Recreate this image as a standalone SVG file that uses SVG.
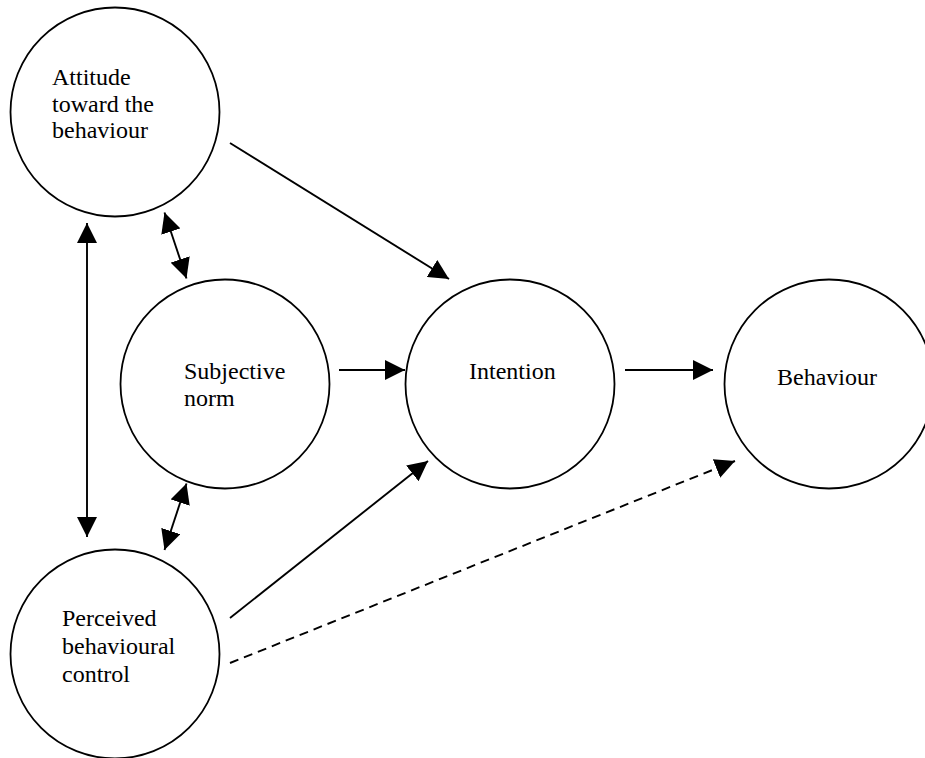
<svg xmlns="http://www.w3.org/2000/svg" width="925" height="758" viewBox="0 0 925 758">
<style>
.node{fill:#fff;stroke:#000;stroke-width:1.8}
.lbl{font-family:"Liberation Serif","Times New Roman",serif;font-size:24px;fill:#000}
.c{fill:none;stroke:#000;stroke-width:1.9}
.d{stroke-dasharray:9 6}
</style>
<defs>
<marker id="ah" viewBox="0 0 20 20" refX="20" refY="10" markerWidth="20" markerHeight="20" markerUnits="userSpaceOnUse" orient="auto-start-reverse">
<path d="M0,0 L20,10 L0,20 z" fill="#000"/>
</marker>
</defs>
<rect width="925" height="758" fill="#fff"/>
<g id="attitude">
<circle class="node" cx="115" cy="112" r="104.5"/>
<text class="lbl" x="52" y="85">Attitude</text>
<text class="lbl" x="52" y="112">toward the</text>
<text class="lbl" x="52" y="138">behaviour</text>
</g>
<g id="subjective-norm">
<circle class="node" cx="225" cy="384" r="104.5"/>
<text class="lbl" x="184" y="379">Subjective</text>
<text class="lbl" x="184" y="406">norm</text>
</g>
<g id="perceived-control">
<circle class="node" cx="115" cy="654" r="104.5"/>
<text class="lbl" x="62" y="626">Perceived</text>
<text class="lbl" x="62" y="654">behavioural</text>
<text class="lbl" x="62" y="682">control</text>
</g>
<g id="intention">
<circle class="node" cx="510" cy="384" r="104.5"/>
<text class="lbl" x="469" y="379">Intention</text>
</g>
<g id="behaviour">
<circle class="node" cx="829" cy="384" r="104.5"/>
<text class="lbl" x="777" y="385">Behaviour</text>
</g>
<g id="connectors">
<line class="c" x1="230" y1="143" x2="449" y2="279" marker-end="url(#ah)"/>
<line class="c" x1="339" y1="370" x2="405" y2="370" marker-end="url(#ah)"/>
<line class="c" x1="625" y1="370" x2="713" y2="370" marker-end="url(#ah)"/>
<line class="c" x1="230" y1="618" x2="428" y2="461" marker-end="url(#ah)"/>
<line class="c d" x1="230" y1="663" x2="735" y2="461" marker-end="url(#ah)"/>
<line class="c" x1="87" y1="223" x2="87" y2="537" marker-start="url(#ah)" marker-end="url(#ah)"/>
<line class="c" x1="164.5" y1="212.5" x2="186.5" y2="278.5" marker-start="url(#ah)" marker-end="url(#ah)"/>
<line class="c" x1="186.5" y1="483.5" x2="164.5" y2="550" marker-start="url(#ah)" marker-end="url(#ah)"/>
</g>
</svg>
